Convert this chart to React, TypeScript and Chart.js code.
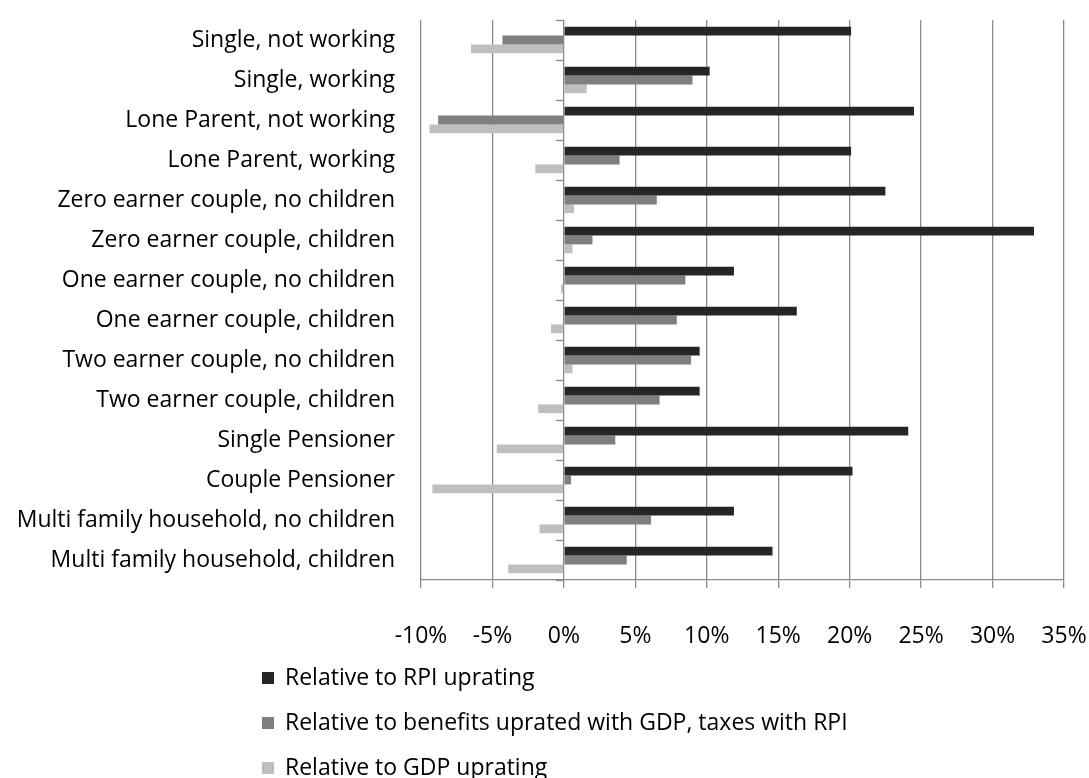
import React, { useEffect, useRef } from "react";
import Chart from "chart.js/auto";

// household types, top to bottom
const categories = [
  "Single, not working",
  "Single, working",
  "Lone Parent, not working",
  "Lone Parent, working",
  "Zero earner couple, no children",
  "Zero earner couple, children",
  "One earner couple, no children",
  "One earner couple, children",
  "Two earner couple, no children",
  "Two earner couple, children",
  "Single Pensioner",
  "Couple Pensioner",
  "Multi family household, no children",
  "Multi family household, children",
];

const seriesNames = [
  "Relative to RPI uprating",
  "Relative to benefits uprated with GDP, taxes with RPI",
  "Relative to GDP uprating",
];

const rpiValues = [20.1, 10.2, 24.5, 20.1, 22.5, 32.9, 11.9, 16.3, 9.5, 9.5, 24.1, 20.2, 11.9, 14.6];
const benefitsGdpValues = [-4.3, 9.0, -8.8, 3.9, 6.5, 2.0, 8.5, 7.9, 8.9, 6.7, 3.6, 0.5, 6.1, 4.4];
const gdpValues = [-6.5, 1.6, -9.4, -2.0, 0.7, 0.6, -0.2, -0.9, 0.6, -1.8, -4.7, -9.2, -1.7, -3.9];

const xTicks = [-10, -5, 0, 5, 10, 15, 20, 25, 30, 35];

const colors = ["#262626", "#7f7f7f", "#bfbfbf"];
const gridColor = "#8a8a8a";
const FONT = '"Open Sans", sans-serif';
const FONT_SIZE = 23;

// legend stacked vertically under the axis, as in the source
const stackedLegend = {
  id: "stackedLegend",
  afterDraw(chart: any) {
    const { ctx } = chart;
    ctx.save();
    ctx.font = `${FONT_SIZE}px ${FONT}`;
    ctx.textBaseline = "middle";
    ctx.textAlign = "left";
    chart.data.datasets.forEach((ds: any, i: number) => {
      const y = 678 + i * 45;
      ctx.fillStyle = ds.backgroundColor;
      ctx.fillRect(262, y - 6, 12, 12);
      ctx.fillStyle = "#000";
      ctx.fillText(ds.label, 285, y);
    });
    ctx.restore();
  },
};

// short category tick marks on the axis line at 0%
const zeroAxisTicks = {
  id: "zeroAxisTicks",
  afterDatasetsDraw(chart: any) {
    const { ctx } = chart;
    const x0 = chart.scales.x.getPixelForValue(0);
    const yScale = chart.scales.y;
    ctx.save();
    ctx.strokeStyle = gridColor;
    ctx.lineWidth = 1.3;
    for (let i = 0; i <= categories.length; i++) {
      const y = Math.round(yScale.getPixelForValue(i - 0.5)) + 0.5;
      ctx.beginPath();
      ctx.moveTo(x0 - 8, y);
      ctx.lineTo(x0, y);
      ctx.stroke();
    }
    ctx.restore();
  },
};

const App = () => {
  const canvasRef = useRef<HTMLCanvasElement | null>(null);
  const chartRef = useRef<Chart | null>(null);

  useEffect(() => {
    if (chartRef.current) {
      chartRef.current.destroy();
    }
    const ctx = canvasRef.current?.getContext("2d");
    if (!ctx) return;

    Chart.defaults.font.family = FONT;
    Chart.defaults.font.size = FONT_SIZE;
    Chart.defaults.color = "#000";

    chartRef.current = new Chart(ctx, {
      type: "bar",
      data: {
        labels: categories,
        datasets: [rpiValues, benefitsGdpValues, gdpValues].map((values, i) => ({
          label: seriesNames[i],
          data: values,
          backgroundColor: colors[i],
          borderWidth: 0,
          barPercentage: 1,
          categoryPercentage: 0.66,
        })),
      },
      options: {
        indexAxis: "y",
        animation: false,
        responsive: true,
        maintainAspectRatio: false,
        layout: { padding: { top: 20, right: 25, bottom: 128, left: 0 } },
        plugins: {
          legend: { display: false },
          tooltip: { enabled: false },
        },
        scales: {
          x: {
            min: -10,
            max: 35,
            afterBuildTicks: (scale: any) => {
              scale.ticks = xTicks.map((v) => ({ value: v }));
            },
            afterFit: (scale: any) => {
              scale.height = 70;
              scale.paddingLeft = 0;
              scale.paddingRight = 0;
            },
            ticks: {
              callback: (v: any) => `${v}%`,
              padding: 35,
              maxRotation: 0,
              color: "#000",
            },
            grid: {
              color: gridColor,
              lineWidth: 1.3,
              drawTicks: true,
              tickLength: 8,
              tickColor: gridColor,
            },
            border: { display: true, color: gridColor, width: 1.3 },
          },
          y: {
            afterFit: (scale: any) => {
              scale.width = 421;
              scale.paddingTop = 0;
              scale.paddingBottom = 0;
            },
            ticks: { padding: 26, color: "#000", autoSkip: false },
            grid: { display: false, drawTicks: false },
            border: { display: false },
          },
        },
      },
      plugins: [stackedLegend, zeroAxisTicks],
    });

    return () => {
      if (chartRef.current) {
        chartRef.current.destroy();
        chartRef.current = null;
      }
    };
  }, []);

  return (
    <div style={{ position: "fixed", left: 0, top: 0, width: 1089, height: 778, background: "#fff" }}>
      <canvas ref={canvasRef} />
    </div>
  );
};

export default App;
